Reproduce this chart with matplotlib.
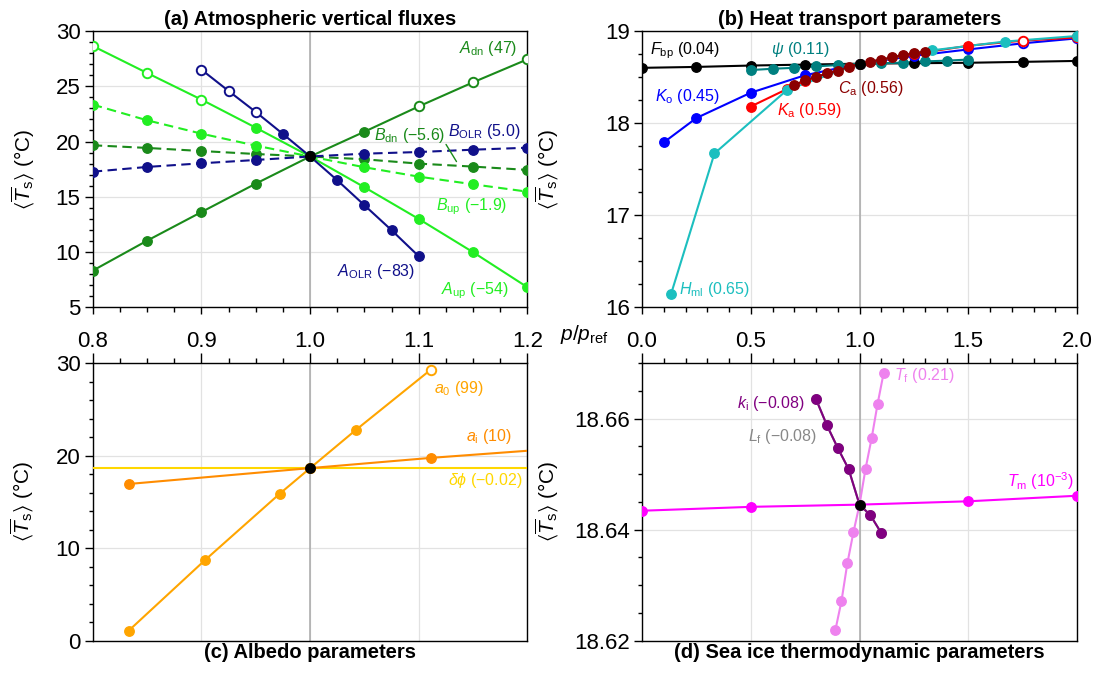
import matplotlib
matplotlib.use("Agg")
import matplotlib.pyplot as plt
from matplotlib.ticker import MultipleLocator, FormatStrFormatter

plt.rcParams['font.family'] = ['Liberation Sans', 'DejaVu Sans']
plt.rcParams['mathtext.fontset'] = 'custom'
plt.rcParams['mathtext.rm'] = 'Liberation Sans'
plt.rcParams['mathtext.it'] = 'Liberation Sans:italic'
plt.rcParams['mathtext.bf'] = 'Liberation Sans:bold'
plt.rcParams['mathtext.fallback'] = 'stixsans'
plt.rcParams['axes.unicode_minus'] = True

# ---------------- data ----------------
REF_X = 1.0
REF_T = 18.645

# (a) Atmospheric vertical fluxes
a_x = [0.8, 0.85, 0.9, 0.95, 1.0, 1.05, 1.1, 1.15, 1.2]
A_dn_T = [8.32, 11.03, 13.62, 16.19, 18.645, 20.89, 23.18, 25.36, 27.44]
A_dn_open = [0, 0, 0, 0, 0, 0, 1, 1, 1]
A_up_T = [28.64, 26.2, 23.79, 21.25, 18.645, 15.86, 12.99, 9.98, 6.81]
A_up_open = [1, 1, 1, 0, 0, 0, 0, 0, 0]
A_OLR_x = [0.9, 0.925, 0.95, 0.975, 1.0, 1.025, 1.05, 1.075, 1.1]
A_OLR_T = [26.5, 24.57, 22.67, 20.68, 18.645, 16.49, 14.23, 11.97, 9.61]
A_OLR_open = [1, 1, 1, 0, 0, 0, 0, 0, 0]
B_dn_T = [19.66, 19.42, 19.14, 18.87, 18.645, 18.39, 18.0, 17.73, 17.43]
B_up_T = [23.34, 21.92, 20.71, 19.63, 18.645, 17.67, 16.82, 16.13, 15.46]
B_OLR_T = [17.27, 17.7, 18.03, 18.33, 18.645, 18.9, 19.05, 19.26, 19.44]

# (b) Heat transport parameters
Fbp_x = [0.0, 0.25, 0.5, 0.75, 1.0, 1.25, 1.5, 1.75, 2.0]
Fbp_T = [18.60, 18.61, 18.625, 18.635, 18.645, 18.65, 18.655, 18.665, 18.675]
Ko_x = [0.1, 0.25, 0.5, 0.75, 1.0, 1.25, 1.5, 1.75, 2.0]
Ko_T = [17.79, 18.055, 18.33, 18.52, 18.645, 18.73, 18.80, 18.866, 18.92]
Ko_open = [0, 0, 0, 0, 0, 0, 0, 1, 1]
Ka_x = [0.5, 0.667, 0.75, 1.0, 1.25, 1.5, 1.75, 2.0]
Ka_T = [18.18, 18.37, 18.46, 18.645, 18.75, 18.84, 18.895, 18.93]
Ka_open = [0, 0, 0, 0, 0, 0, 1, 1]
Hml_x = [0.133, 0.333, 0.667, 1.0, 1.333, 1.667, 2.0]
Hml_T = [16.14, 17.67, 18.36, 18.645, 18.79, 18.885, 18.946]
Ca_x = [0.7, 0.75, 0.8, 0.85, 0.9, 0.95, 1.0, 1.05, 1.1, 1.15, 1.2, 1.25, 1.3]
Ca_T = [18.41, 18.47, 18.50, 18.54, 18.57, 18.61, 18.645, 18.667, 18.69,
        18.714, 18.74, 18.757, 18.776]
psi_x = [0.5, 0.6, 0.7, 0.8, 0.9, 1.0, 1.1, 1.2, 1.3, 1.4, 1.5]
psi_T = [18.576, 18.59, 18.60, 18.616, 18.63, 18.645, 18.65, 18.656, 18.67,
         18.678, 18.69]

# (c) Albedo parameters
a0_x = [0.833, 0.903, 0.972, 1.0, 1.042, 1.111]
a0_T = [1.08, 8.68, 15.88, 18.645, 22.76, 29.28]
a0_open = [0, 0, 0, 0, 0, 1]
ai_x = [0.833, 1.0, 1.111, 1.2]
ai_T = [16.93, 18.645, 19.75, 20.52]
ai_mark = [1, 1, 1, 0]
dphi_x = [0.8, 1.0, 1.2]
dphi_T = [18.645, 18.645, 18.645]
dphi_mark = [0, 1, 0]

# (d) Sea ice thermodynamic parameters
REF_T_D = 18.6445
Tm_x = [0.0, 0.5, 1.0, 1.5, 2.0]
Tm_T = [18.6434, 18.6441, 18.6445, 18.6451, 18.6461]
ki_x = [0.8, 0.85, 0.9, 0.95, 1.0, 1.05, 1.1]
ki_T = [18.6635, 18.6588, 18.6547, 18.6509, 18.6445, 18.6426, 18.6394]
Lf_x = ki_x
Lf_T = ki_T
Tf_x = [0.889, 0.917, 0.944, 0.972, 1.0, 1.028, 1.056, 1.083, 1.111]
Tf_T = [18.6219, 18.6271, 18.6339, 18.6395, 18.6445, 18.651, 18.6565,
        18.6626, 18.6682]

# colours
C_DKGREEN = '#1a8a1a'
C_LIME = '#22ee22'
C_NAVY = '#10108a'

# ---------------- figure ----------------
fig = plt.figure(figsize=(10.98, 6.75), dpi=100)
W, H = 1098.0, 675.0
def rect(l, r, t, b):
    return [l / W, 1 - b / H, (r - l) / W, (b - t) / H]

ax_a = fig.add_axes(rect(92.8, 527.5, 31, 307.3))
ax_b = fig.add_axes(rect(642.0, 1077.0, 31, 307.3))
ax_c = fig.add_axes(rect(92.8, 527.5, 363, 640.7))
ax_d = fig.add_axes(rect(642.0, 1077.0, 363, 640.7))

MS = 6.8
LW = 1.5

def series(ax, x, y, color, ls='-', open_=None, mark=None, z=3):
    kw = dict(color=color, lw=LW, zorder=z)
    if ls == '--':
        ax.plot(x, y, linestyle=(0, (4.5, 2.6)), **kw)
    else:
        ax.plot(x, y, linestyle=ls, **kw)
    n = len(x)
    open_ = open_ or [0] * n
    mark = mark or [1] * n
    for xi, yi, o, m in zip(x, y, open_, mark):
        if not m:
            continue
        ax.plot(xi, yi, 'o', ms=MS, mfc='white' if o else color, mec=color,
                mew=1.4 if o else 1.0, zorder=z + 0.5)

TKFS = 16

def style(ax, xlim, ylim, ymaj, ymin, xmaj, xmin, top_labels, xfmt, yfmt):
    ax.set_xlim(*xlim)
    ax.set_ylim(*ylim)
    ax.yaxis.set_major_locator(MultipleLocator(ymaj))
    ax.yaxis.set_minor_locator(MultipleLocator(ymin))
    ax.xaxis.set_major_locator(MultipleLocator(xmaj))
    ax.xaxis.set_minor_locator(MultipleLocator(xmin))
    ax.xaxis.set_major_formatter(FormatStrFormatter(xfmt))
    ax.yaxis.set_major_formatter(FormatStrFormatter(yfmt))
    ax.grid(True, which='major', color='#e2e2e2', lw=0.9, zorder=0)
    ax.set_axisbelow(True)
    ax.axvline(REF_X, color='#a8a8a8', lw=1.1, zorder=1)
    ax.tick_params(axis='y', which='major', direction='out', length=5.8,
                   width=1, labelsize=TKFS, pad=3)
    ax.tick_params(axis='y', which='minor', direction='out', length=3, width=1)
    ax.tick_params(axis='y', right=False, which='both')
    if top_labels:
        ax.xaxis.tick_top()
        ax.tick_params(axis='x', which='major', direction='out', length=7,
                       width=1, labelsize=TKFS, pad=1, top=True, bottom=False,
                       labeltop=True, labelbottom=False)
        ax.tick_params(axis='x', which='minor', direction='out', length=3.5,
                       width=1, top=True, bottom=False)
        ax.xaxis.set_label_position('bottom')
    else:
        ax.tick_params(axis='x', which='major', direction='out', length=5,
                       width=1, bottom=True, top=False, labelbottom=False)
        ax.tick_params(axis='x', which='minor', direction='out', length=3.5,
                       width=1, bottom=True, top=False)
    for s in ax.spines.values():
        s.set_linewidth(1.0)
        s.set_color('black')

YLAB = r'$\langle\overline{T}_\mathrm{s}\rangle$ (°C)'
YLFS = 15
TFS = 14.5
LFS = 11.5

# ---- (a) ----
ax = ax_a
series(ax, a_x, B_dn_T, C_DKGREEN, '--')
series(ax, a_x, B_up_T, C_LIME, '--')
series(ax, a_x, B_OLR_T, C_NAVY, '--')
series(ax, a_x, A_dn_T, C_DKGREEN, '-', A_dn_open)
series(ax, a_x, A_up_T, C_LIME, '-', A_up_open)
series(ax, A_OLR_x, A_OLR_T, C_NAVY, '-', A_OLR_open)
ax.plot(REF_X, REF_T, 'o', color='black', ms=MS, zorder=10)
style(ax, (0.8, 1.2), (5, 30), 5, 1, 0.1, 0.025, False, '%.1f', '%d')
ax.set_title('(a) Atmospheric vertical fluxes', fontweight='bold', fontsize=TFS, pad=4)
ax.set_ylabel(YLAB, fontsize=YLFS)
ax.yaxis.set_label_coords(-0.128, 0.5)
ax.text(1.191, 28.43, r'$A_\mathrm{dn}$ (47)', color=C_DKGREEN, fontsize=LFS, ha='right', va='center')
ax.text(1.124, 20.5, r'$B_\mathrm{dn}$ (−5.6)', color=C_DKGREEN, fontsize=LFS, ha='right', va='center')
ax.text(1.194, 20.9, r'$B_\mathrm{OLR}$ (5.0)', color=C_NAVY, fontsize=LFS, ha='right', va='center')
ax.text(1.181, 14.11, r'$B_\mathrm{up}$ (−1.9)', color=C_LIME, fontsize=LFS, ha='right', va='center')
ax.text(1.097, 8.23, r'$A_\mathrm{OLR}$ (−83)', color=C_NAVY, fontsize=LFS, ha='right', va='center')
ax.text(1.183, 6.48, r'$A_\mathrm{up}$ (−54)', color=C_LIME, fontsize=LFS, ha='right', va='center')
ax.annotate('', xy=(1.136, 17.97), xytext=(1.1237, 19.95),
            arrowprops=dict(arrowstyle='-', color=C_DKGREEN, lw=1.0))

# ---- (b) ----
ax = ax_b
C_FBP, C_PSI, C_KO, C_CA, C_KA, C_HML = 'black', '#008080', '#0000ff', '#8b0000', '#ff0000', '#1cbfbf'
series(ax, Fbp_x, Fbp_T, C_FBP)
series(ax, Ko_x, Ko_T, C_KO, '-', Ko_open)
series(ax, Ka_x, Ka_T, C_KA, '-', Ka_open)
series(ax, Hml_x, Hml_T, C_HML)
series(ax, psi_x, psi_T, C_PSI)
series(ax, Ca_x, Ca_T, C_CA)
ax.plot(REF_X, REF_T, 'o', color='black', ms=MS, zorder=10)
style(ax, (0.0, 2.0), (16, 19), 1, 0.25, 0.5, 0.1, False, '%.1f', '%d')
ax.set_title('(b) Heat transport parameters', fontweight='bold', fontsize=TFS, pad=4)
ax.set_ylabel(YLAB, fontsize=YLFS)
ax.yaxis.set_label_coords(-0.186, 0.5)
ax.text(0.036, 18.79, r'$F_\mathrm{bp}$ (0.04)', color=C_FBP, fontsize=LFS, va='center')
ax.text(0.592, 18.80, r'$\psi$ (0.11)', color=C_PSI, fontsize=LFS, va='center')
ax.text(0.061, 18.29, r'$K_\mathrm{o}$ (0.45)', color=C_KO, fontsize=LFS, va='center')
ax.text(0.903, 18.38, r'$C_\mathrm{a}$ (0.56)', color=C_CA, fontsize=LFS, va='center')
ax.text(0.622, 18.14, r'$K_\mathrm{a}$ (0.59)', color=C_KA, fontsize=LFS, va='center')
ax.text(0.172, 16.195, r'$H_\mathrm{ml}$ (0.65)', color=C_HML, fontsize=LFS, va='center')

# ---- (c) ----
ax = ax_c
C_A0, C_AI, C_DPHI = '#ffa500', '#ff8c00', '#ffd700'
series(ax, dphi_x, dphi_T, C_DPHI, '-', None, dphi_mark)
series(ax, ai_x, ai_T, C_AI, '-', None, ai_mark)
series(ax, a0_x, a0_T, C_A0, '-', a0_open)
ax.plot(REF_X, REF_T, 'o', color='black', ms=MS, zorder=10)
style(ax, (0.8, 1.2), (0, 30), 10, 2, 0.1, 0.025, True, '%.1f', '%d')
ax.set_xlabel('(c) Albedo parameters', fontweight='bold', fontsize=TFS, labelpad=2)
ax.set_ylabel(YLAB, fontsize=YLFS)
ax.yaxis.set_label_coords(-0.13, 0.5)
ax.text(1.114, 27.29, r'$a_0$ (99)', color=C_A0, fontsize=LFS, va='center')
ax.text(1.143, 22.07, r'$a_\mathrm{i}$ (10)', color=C_AI, fontsize=LFS, va='center')
ax.text(1.127, 17.26, r'$\delta\phi$ (−0.02)', color=C_DPHI, fontsize=LFS, va='center')

# ---- (d) ----
ax = ax_d
C_TM, C_KI, C_TF, C_LF = '#ff00ff', '#800080', '#ee82ee', '#888888'
series(ax, Tm_x, Tm_T, C_TM)
series(ax, Lf_x, Lf_T, C_LF)
series(ax, ki_x, ki_T, C_KI)
series(ax, Tf_x, Tf_T, C_TF)
ax.plot(REF_X, REF_T_D, 'o', color='black', ms=MS, zorder=10)
style(ax, (0.0, 2.0), (18.62, 18.67), 0.02, 0.005, 0.5, 0.1, True, '%.1f', '%.2f')
ax.set_xlabel('(d) Sea ice thermodynamic parameters', fontweight='bold', fontsize=TFS, labelpad=2)
ax.set_ylabel(YLAB, fontsize=YLFS)
ax.yaxis.set_label_coords(-0.186, 0.5)
ax.text(1.157, 18.6677, r'$T_\mathrm{f}$ (0.21)', color=C_TF, fontsize=LFS, va='center')
ax.text(0.437, 18.6627, r'$k_\mathrm{i}$ (−0.08)', color=C_KI, fontsize=LFS, va='center')
ax.text(0.486, 18.6567, r'$L_\mathrm{f}$ (−0.08)', color=C_LF, fontsize=LFS, va='center')
ax.text(1.984, 18.6487, r'$T_\mathrm{m}$ ($10^{-3}$)', color=C_TM, fontsize=LFS, ha='right', va='center')

fig.text(584 / W, 1 - 334 / H, r'$p/p_\mathrm{ref}$', fontsize=15, ha='center', va='center')

fig.savefig('out.png', dpi=100)
